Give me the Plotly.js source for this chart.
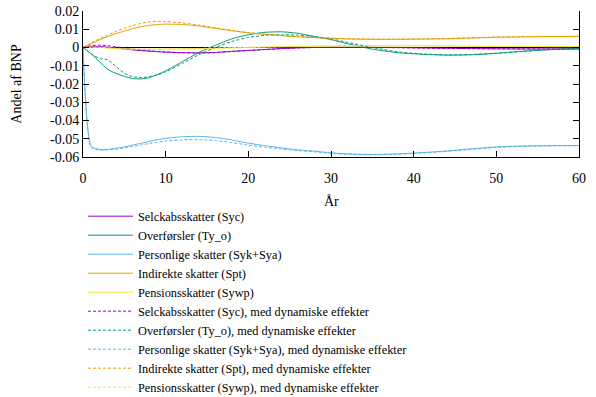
<!DOCTYPE html>
<html>
<head>
<meta charset="utf-8">
<script src="https://cdn.plot.ly/plotly-3.0.1.min.js"></script>
<style>html,body{margin:0;padding:0;background:#fff;}#chart{width:596px;height:397px;}</style>
</head>
<body>
<div id="chart"></div>
<script>
const years = [0,1,2,3,4,5,6,7,8,9,10,12,14,16,18,20,22,24,26,28,30,32,35,38,41,44,47,50,53,56,60];

const sycBase = [0,0.0005,0.0005,0.0002,-0.0003,-0.0008,-0.0013,-0.0017,-0.0020,-0.0023,-0.0025,-0.0028,-0.0029,-0.0027,-0.0021,-0.0016,-0.0011,-0.0006,-0.0002,0.0000,0.0001,0.0001,0.0001,0.0000,-0.0002,-0.0004,-0.0006,-0.0007,-0.0008,-0.0008,-0.0008];
const tyoBase = [0,-0.0035,-0.0078,-0.0120,-0.0142,-0.0158,-0.0170,-0.0172,-0.0165,-0.0148,-0.0128,-0.0078,-0.0028,0.0012,0.0047,0.0070,0.0083,0.0086,0.0078,0.0060,0.0043,0.0021,-0.0009,-0.0028,-0.0037,-0.0042,-0.0040,-0.0032,-0.0022,-0.0013,-0.0005];
const sykBase = [0,-0.0542,-0.0558,-0.0558,-0.0552,-0.0545,-0.0535,-0.0525,-0.0515,-0.0505,-0.0498,-0.0489,-0.0487,-0.0493,-0.0507,-0.0524,-0.0538,-0.0550,-0.0561,-0.0568,-0.0577,-0.0583,-0.0586,-0.0583,-0.0576,-0.0567,-0.0555,-0.0545,-0.0540,-0.0538,-0.0537];
const sptBase = [0,0.0022,0.0042,0.0060,0.0076,0.0090,0.0103,0.0114,0.0121,0.0126,0.0128,0.0126,0.0118,0.0105,0.0092,0.0080,0.0072,0.0065,0.0059,0.0054,0.0050,0.0047,0.0045,0.0045,0.0046,0.0048,0.0052,0.0056,0.0058,0.0060,0.0061];
const sywpBase = [0,0.0002,0.0000,-0.0003,-0.0006,-0.0008,-0.0009,-0.0010,-0.0010,-0.0010,-0.0009,-0.0008,-0.0006,-0.0004,-0.0002,0.0000,0.0002,0.0004,0.0005,0.0007,0.0008,0.0009,0.0009,0.0009,0.0009,0.0008,0.0007,0.0006,0.0006,0.0005,0.0005];

const sycDyn = [0,0.0010,0.0013,0.0010,0.0004,-0.0003,-0.0009,-0.0014,-0.0018,-0.0022,-0.0025,-0.0029,-0.0030,-0.0028,-0.0022,-0.0017,-0.0011,-0.0006,-0.0002,0.0000,0.0001,0.0001,0.0000,-0.0001,-0.0003,-0.0005,-0.0006,-0.0007,-0.0008,-0.0008,-0.0008];
const tyoDyn = [0,-0.0035,-0.0060,-0.0068,-0.0105,-0.0140,-0.0160,-0.0165,-0.0160,-0.0150,-0.0133,-0.0088,-0.0040,0.0000,0.0033,0.0055,0.0067,0.0070,0.0068,0.0060,0.0048,0.0028,0.0000,-0.0023,-0.0035,-0.0040,-0.0038,-0.0031,-0.0021,-0.0012,-0.0004];
const sykDyn = [0,-0.0548,-0.0562,-0.0561,-0.0557,-0.0550,-0.0542,-0.0534,-0.0526,-0.0519,-0.0513,-0.0506,-0.0505,-0.0510,-0.0521,-0.0535,-0.0546,-0.0556,-0.0565,-0.0572,-0.0580,-0.0585,-0.0588,-0.0585,-0.0578,-0.0569,-0.0558,-0.0548,-0.0542,-0.0539,-0.0538];
const sptDyn = [0,0.0025,0.0048,0.0068,0.0088,0.0105,0.0120,0.0132,0.0140,0.0143,0.0142,0.0135,0.0123,0.0108,0.0094,0.0082,0.0073,0.0066,0.0060,0.0055,0.0051,0.0048,0.0046,0.0046,0.0047,0.0049,0.0053,0.0057,0.0059,0.0060,0.0061];
const sywpDyn = [0,0.0002,0.0001,-0.0002,-0.0005,-0.0007,-0.0008,-0.0009,-0.0009,-0.0009,-0.0008,-0.0007,-0.0005,-0.0003,-0.0001,0.0001,0.0003,0.0004,0.0006,0.0007,0.0008,0.0009,0.0009,0.0009,0.0009,0.0008,0.0007,0.0006,0.0006,0.0005,0.0005];

const names = [
  "Selckabsskatter (Syc)",
  "Overførsler (Ty_o)",
  "Personlige skatter (Syk+Sya)",
  "Indirekte skatter (Spt)",
  "Pensionsskatter (Sywp)"
];
const dynSuffix = ", med dynamiske effekter";
const colors = ["#9400d3","#009e73","#56b4e9","#e69f00","#f0e442"];

const xTitle = "År";
const yTitle = "Andel af BNP";
const yTickVals = [-0.06,-0.05,-0.04,-0.03,-0.02,-0.01,0,0.01,0.02];
const yTickText = ["-0.06","-0.05","-0.04","-0.03","-0.02","-0.01","0","0.01","0.02"];
const xTickVals = [0,10,20,30,40,50,60];

const baseSeries = [sycBase, tyoBase, sykBase, sptBase, sywpBase];
const dynSeries = [sycDyn, tyoDyn, sykDyn, sptDyn, sywpDyn];

const traces = [];
baseSeries.forEach((s,i)=>traces.push({
  x: years, y: s, type:'scatter', mode:'lines', name: names[i],
  line:{color:colors[i], width:1, shape:'spline', smoothing:0.6}
}));
dynSeries.forEach((s,i)=>traces.push({
  x: years, y: s, type:'scatter', mode:'lines', name: names[i] + dynSuffix,
  line:{color:colors[i], width:1, dash:'3px,2px', shape:'spline', smoothing:0.6}
}));

const FF = 'Liberation Serif, Times New Roman, Times, DejaVu Serif, serif';

const layout = {
  width:596, height:397,
  margin:{l:83, r:17, t:11, b:240},
  paper_bgcolor:'#fff', plot_bgcolor:'#fff',
  font: {family:FF, size:14, color:'#000'},
  showlegend:true,
  legend:{x:0, xanchor:'left', xref:'paper', y:0.492, yref:'container', yanchor:'top',
          font:{size:12.3},
          bgcolor:'rgba(0,0,0,0)', itemwidth:45, tracegroupgap:0},
  annotations:[{text:xTitle, xref:'paper', yref:'paper', x:0.5, y:-0.308, xanchor:'center', yanchor:'middle',
                showarrow:false, font:{family:FF, size:14, color:'#000'}}],
  xaxis:{range:[0,60], tickvals:xTickVals, ticks:'inside', ticklen:6, tickcolor:'#000',
         showline:true, linecolor:'#000', linewidth:1, mirror:false, showgrid:false, zeroline:false,
         ticklabelstandoff:8, automargin:false,
         tickfont:{family:FF, size:14}},
  yaxis:{range:[-0.06,0.02], tickvals:yTickVals, ticktext:yTickText, ticks:'inside', ticklen:6, tickcolor:'#000',
         showline:true, linecolor:'#000', linewidth:1, mirror:'allticks', showgrid:false,
         zeroline:true, zerolinecolor:'#000', zerolinewidth:1.5, automargin:false,
         title:{text:yTitle, font:{family:FF, size:14}, standoff:25},
         tickfont:{family:FF, size:14}}
};

Plotly.newPlot('chart', traces, layout, {displayModeBar:false, staticPlot:true});
</script>
</body>
</html>
